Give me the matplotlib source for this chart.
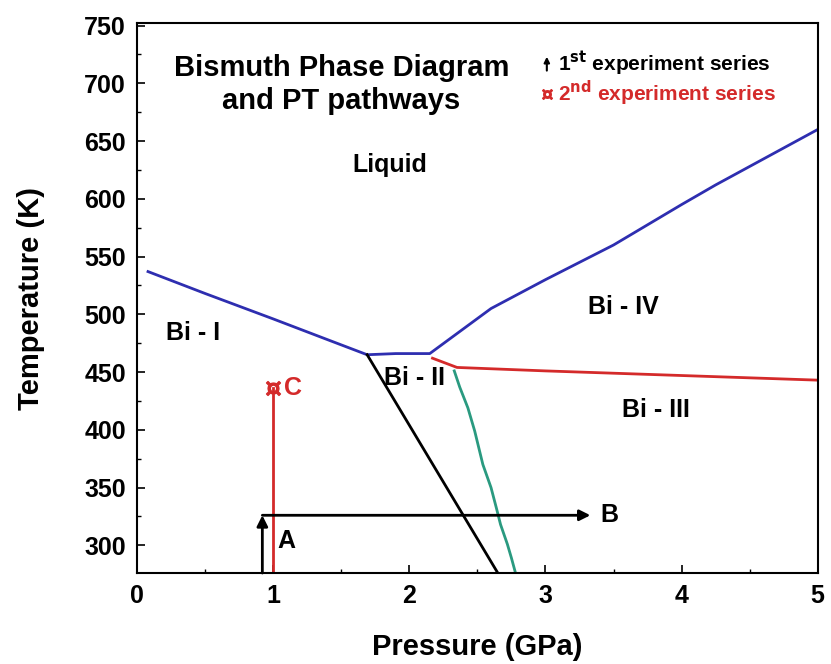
import matplotlib.pyplot as plt

plt.rcParams['font.family'] = ['Liberation Sans', 'DejaVu Sans']
plt.rcParams['font.weight'] = 'bold'

# phase boundaries (P in GPa, T in K)
melt_p = [0.08, 0.5, 1.0, 1.4, 1.69, 1.9, 2.15, 2.6, 3.0, 3.5, 4.0, 4.25, 4.5, 5.0]
melt_t = [537, 518, 496, 478, 465, 466, 466, 505, 530, 560, 595, 612, 628, 660]
i_ii_p = [1.69, 2.65]
i_ii_t = [465, 276]
ii_iii_p = [2.33, 2.37, 2.43, 2.48, 2.54, 2.60, 2.64, 2.67, 2.72, 2.75, 2.78]
ii_iii_t = [451, 437, 419, 399, 370, 350, 332, 318, 301, 289, 276]
iii_iv_p = [2.17, 2.35, 3.0, 4.0, 5.0]
iii_iv_t = [462, 454, 451, 447, 443]

# PT pathways
path_a_p = [0.92, 0.92]
path_a_t = [276, 326]
path_ab_p = [0.92, 3.33]
path_ab_t = [326, 326]
path_c_p = [1.0, 1.0]
path_c_t = [276, 436]

labels = ["Liquid", "Bi - I", "Bi - II", "Bi - IV", "Bi - III"]
label_p = [1.86, 0.41, 2.04, 3.57, 3.81]
label_t = [629, 484, 445, 506, 417]

fig = plt.figure(figsize=(8.31, 6.64), dpi=100)
ax = fig.add_axes([0.165, 0.137, 0.819, 0.828])

ax.plot(melt_p, melt_t, color="#2e2eb0", lw=2)
ax.plot(i_ii_p, i_ii_t, color="black", lw=2)
ax.plot(ii_iii_p, ii_iii_t, color="#2a9a80", lw=2)
ax.plot(iii_iv_p, iii_iv_t, color="#d42a2a", lw=2)

ax.plot(path_c_p, path_c_t, color="#d42a2a", lw=2)
ax.plot(path_c_p[1], path_c_t[1], marker="$\u29D7$", color="#d42a2a", ms=10)
ax.annotate("", xy=(path_a_p[1], path_a_t[1]), xytext=(path_a_p[0], path_a_t[0]),
            arrowprops=dict(arrowstyle="-|>", color="black", lw=2, mutation_scale=16, shrinkA=0, shrinkB=0))
ax.annotate("", xy=(path_ab_p[1], path_ab_t[1]), xytext=(path_ab_p[0], path_ab_t[0]),
            arrowprops=dict(arrowstyle="-|>", color="black", lw=2, mutation_scale=16, shrinkA=0, shrinkB=0))

ax.text(1.03, 304, "A", fontsize=18, fontweight="bold", va="center")
ax.text(3.40, 326, "B", fontsize=18, fontweight="bold", va="center")
ax.text(1.08, 436, "C", fontsize=18, fontweight="bold", color="#d42a2a", va="center")

for lab, p, t in zip(labels, label_p, label_t):
    ax.text(p, t, lab, fontsize=18, fontweight="bold", ha="center", va="center")

ax.text(1.50, 699, "Bismuth Phase Diagram\nand PT pathways", fontsize=21, fontweight="bold",
        ha="center", va="center", linespacing=1.2)

ax.annotate("", xy=(3.01, 723), xytext=(3.01, 711),
            arrowprops=dict(arrowstyle="-|>", color="black", lw=1.5, mutation_scale=8, shrinkA=0, shrinkB=0))
ax.text(3.09, 717, "1$^{\\mathbf{st}}$ experiment series", fontsize=15, fontweight="bold", va="center")
ax.plot(3.01, 691, marker="$\u29D7$", color="#d42a2a", ms=7)
ax.text(3.09, 691, "2$^{\\mathbf{nd}}$ experiment series", fontsize=15, fontweight="bold",
        va="center", color="#d42a2a")

ax.set_xlim(0, 5)
ax.set_ylim(276, 752)
ax.set_xticks([0, 1, 2, 3, 4, 5])
ax.set_xticks([0.5, 1.5, 2.5, 3.5, 4.5], minor=True)
ax.set_yticks(range(300, 751, 50))
ax.set_yticks(range(325, 751, 50), minor=True)
ax.tick_params(direction="in", labelsize=18, width=1.2, length=6, pad=8)
ax.tick_params(which="minor", direction="in", length=3, width=1)
for lbl in ax.get_xticklabels() + ax.get_yticklabels():
    lbl.set_fontweight("bold")
for s in ax.spines.values():
    s.set_linewidth(1.5)

ax.set_xlabel("Pressure (GPa)", fontsize=21, fontweight="bold", labelpad=18)
ax.set_ylabel("Temperature (K)", fontsize=21, fontweight="bold", labelpad=28)

plt.savefig("out.png", dpi=100)
